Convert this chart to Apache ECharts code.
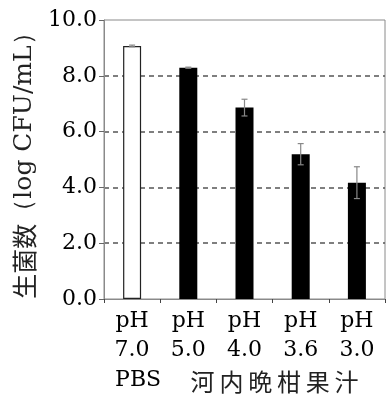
<!DOCTYPE html>
<html><head><meta charset="utf-8">
<script src="https://cdn.jsdelivr.net/npm/echarts@6/dist/echarts.min.js"></script>
<style>html,body{margin:0;padding:0;background:#fff}#c{width:387px;height:401px}</style>
</head><body><div id="c"></div>
<script>
var categories = ['pH\n7.0', 'pH\n5.0', 'pH\n4.0', 'pH\n3.6', 'pH\n3.0'];
var values = [9.07, 8.29, 6.86, 5.19, 4.17];
var errors = [0.03, 0.02, 0.30, 0.38, 0.57];
var groupLabels = ['PBS', '河内晩柑果汁'];
var yTicks = [0, 2, 4, 6, 8, 10];

var serif = 'DejaVu Serif';
var cjk = 'Noto Sans CJK JP';
var chart = echarts.init(document.getElementById('c'));
var barData = values.map(function (v, i) {
  return i === 0 ? { value: v, itemStyle: { color: '#fff', borderColor: '#222', borderWidth: 1.2 } }
                 : { value: v, itemStyle: { color: '#000' } };
});
var errData = values.map(function (v, i) { return [i, v - errors[i], v + errors[i]]; });
var splitColors = yTicks.map(function (t, i) { return (i === 0 || i === yTicks.length - 1) ? 'rgba(0,0,0,0)' : '#555'; });
chart.setOption({
  animation: false,
  grid: { left: 104, right: 2, top: 20, bottom: 102, show: true, borderColor: '#8a8a8a', borderWidth: 1 },
  xAxis: {
    type: 'category', data: categories,
    axisLine: { lineStyle: { color: '#8a8a8a', width: 1 } },
    axisTick: { show: true, length: 4, lineStyle: { color: '#444' } },
    axisLabel: { fontFamily: serif, fontSize: 22, color: '#000', lineHeight: 29, margin: 8 }
  },
  yAxis: {
    type: 'value', min: yTicks[0], max: yTicks[yTicks.length - 1], interval: 2,
    name: '{a|生菌数}{b|（log CFU/mL）}', nameLocation: 'middle', nameGap: 64,
    nameTextStyle: { rich: { a: { fontFamily: cjk, fontSize: 25, color: '#222' }, b: { fontFamily: serif, fontSize: 25, color: '#222' } } },
    axisLine: { show: true, lineStyle: { color: '#8a8a8a', width: 1 } },
    axisTick: { show: true, length: 5, lineStyle: { color: '#666' } },
    axisLabel: { fontFamily: serif, fontSize: 22, color: '#000', margin: 7, formatter: function (v) { return v.toFixed(1); } },
    splitLine: { show: true, lineStyle: { color: splitColors, type: [5, 4], width: 1.5 } }
  },
  series: [
    { type: 'bar', data: barData, barWidth: 18, z: 2 },
    {
      type: 'custom', data: errData, z: 3,
      renderItem: function (params, api) {
        var x = api.value(0);
        var lo = api.coord([x, api.value(1)]);
        var hi = api.coord([x, api.value(2)]);
        var cap = 3;
        var st = { stroke: '#888', lineWidth: 1.2 };
        return { type: 'group', children: [
          { type: 'line', shape: { x1: lo[0], y1: lo[1], x2: hi[0], y2: hi[1] }, style: st },
          { type: 'line', shape: { x1: lo[0] - cap, y1: lo[1], x2: lo[0] + cap, y2: lo[1] }, style: st },
          { type: 'line', shape: { x1: hi[0] - cap, y1: hi[1], x2: hi[0] + cap, y2: hi[1] }, style: st }
        ] };
      }
    }
  ]
});
var p0 = chart.convertToPixel({ xAxisIndex: 0 }, 0);
var p1 = (chart.convertToPixel({ xAxisIndex: 0 }, 1) + chart.convertToPixel({ xAxisIndex: 0 }, 4)) / 2;
chart.setOption({
  graphic: [
    { type: 'text', x: p0 + 6, y: 380, style: { text: groupLabels[0], font: '22px "' + serif + '"', fill: '#000', align: 'center', verticalAlign: 'middle' } },
    { type: 'text', x: p1 + 2, y: 382, style: { text: groupLabels[1].split('').join('\u2009'), font: '24px "' + cjk + '"', fill: '#222', align: 'center', verticalAlign: 'middle' } }
  ]
});
</script></body></html>
